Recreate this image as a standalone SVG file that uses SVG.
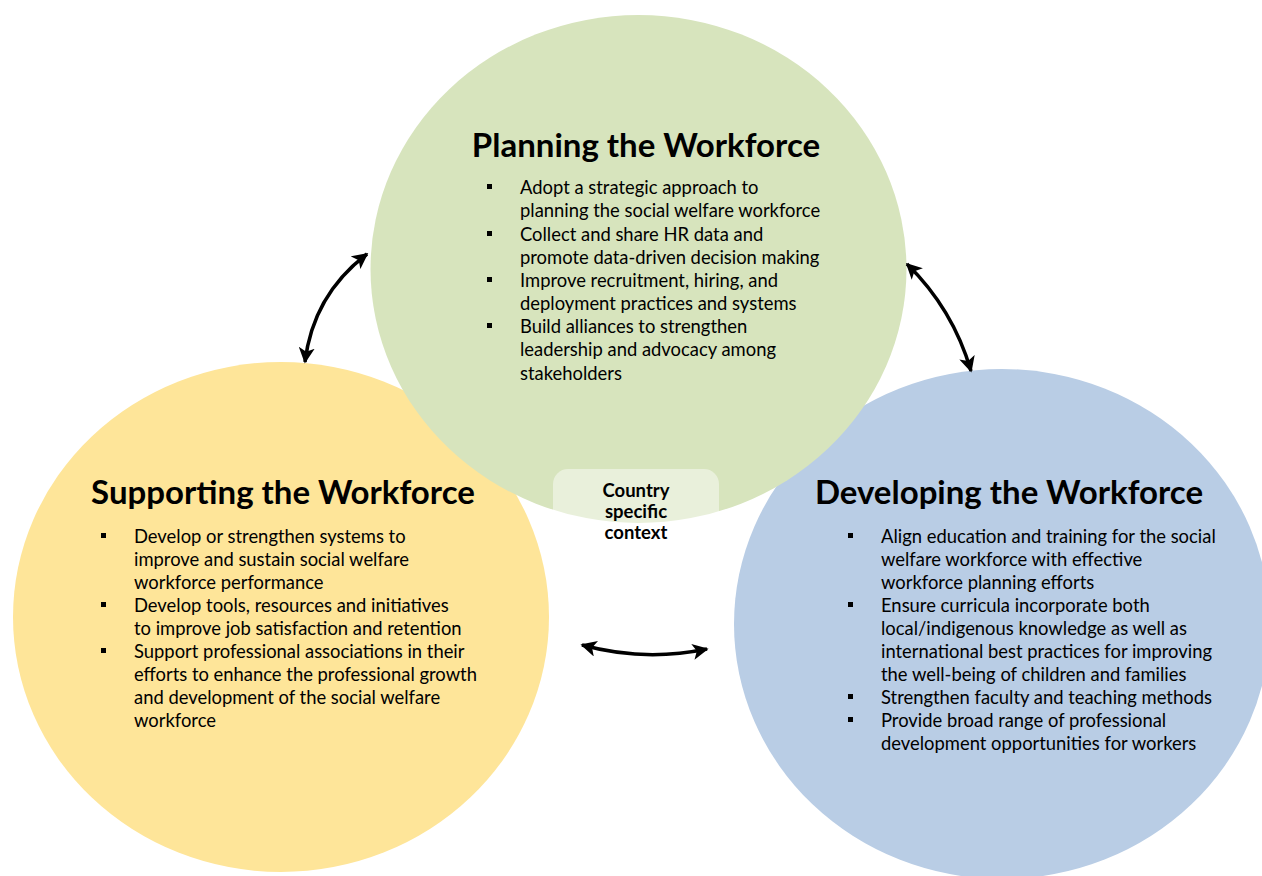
<svg xmlns="http://www.w3.org/2000/svg" width="1262" height="876" viewBox="0 0 1262 876">
<defs>
<style>
.title{font-family:Lato,"Open Sans",sans-serif;font-weight:bold;font-size:33px;fill:#000;text-anchor:middle}
.body{font-family:Lato,"Open Sans",sans-serif;font-size:18.4px;fill:#000}
.ctx{font-family:Lato,"Open Sans",sans-serif;font-weight:bold;font-size:18.5px;fill:#000;text-anchor:middle}
.bul{fill:#000}
.conn{fill:none;stroke:#000;stroke-width:3.5}
</style>
<marker id="ah" viewBox="0 0 10 10" refX="9" refY="5" markerWidth="16" markerHeight="16" markerUnits="userSpaceOnUse" orient="auto-start-reverse">
<path d="M0,0 L10,5 L0,10 L2.5,5 Z" fill="#000"/>
</marker>
</defs>
<rect width="1262" height="876" fill="#fff"/>

<g id="supporting">
<ellipse cx="281" cy="617" rx="268" ry="255" fill="#fee599"/>
<text class="title" x="283" y="504">Supporting the Workforce</text>
<rect class="bul" x="101" y="533" width="5" height="5"/>
<rect class="bul" x="101" y="602" width="5" height="5"/>
<rect class="bul" x="101" y="648" width="5" height="5"/>
<text class="body" x="134" y="543">Develop or strengthen systems to</text>
<text class="body" x="134" y="566">improve and sustain social welfare</text>
<text class="body" x="134" y="589">workforce performance</text>
<text class="body" x="134" y="612">Develop tools, resources and initiatives</text>
<text class="body" x="134" y="635">to improve job satisfaction and retention</text>
<text class="body" x="134" y="658">Support professional associations in their</text>
<text class="body" x="134" y="681">efforts to enhance the professional growth</text>
<text class="body" x="134" y="704">and development of the social welfare</text>
<text class="body" x="134" y="727">workforce</text>
</g>

<g id="developing">
<ellipse cx="1002" cy="624" rx="268" ry="255" fill="#b9cde5"/>
<text class="title" x="1009" y="504">Developing the Workforce</text>
<rect class="bul" x="848" y="533" width="5" height="5"/>
<rect class="bul" x="848" y="602" width="5" height="5"/>
<rect class="bul" x="848" y="694" width="5" height="5"/>
<rect class="bul" x="848" y="717" width="5" height="5"/>
<text class="body" x="881" y="543">Align education and training for the social</text>
<text class="body" x="881" y="566">welfare workforce with effective</text>
<text class="body" x="881" y="589">workforce planning efforts</text>
<text class="body" x="881" y="612">Ensure curricula incorporate both</text>
<text class="body" x="881" y="635">local/indigenous knowledge as well as</text>
<text class="body" x="881" y="658">international best practices for improving</text>
<text class="body" x="881" y="681">the well-being of children and families</text>
<text class="body" x="881" y="704">Strengthen faculty and teaching methods</text>
<text class="body" x="881" y="727">Provide broad range of professional</text>
<text class="body" x="881" y="750">development opportunities for workers</text>
</g>

<g id="planning">
<ellipse cx="638.5" cy="269" rx="268" ry="254" fill="#d7e4bd"/>
<text class="title" x="646" y="157">Planning the Workforce</text>
<rect class="bul" x="487" y="184" width="5" height="5"/>
<rect class="bul" x="487" y="231" width="5" height="5"/>
<rect class="bul" x="487" y="277" width="5" height="5"/>
<rect class="bul" x="487" y="323" width="5" height="5"/>
<text class="body" x="520" y="194">Adopt a strategic approach to</text>
<text class="body" x="520" y="217">planning the social welfare workforce</text>
<text class="body" x="520" y="241">Collect and share HR data and</text>
<text class="body" x="520" y="264">promote data-driven decision making</text>
<text class="body" x="520" y="287">Improve recruitment, hiring, and</text>
<text class="body" x="520" y="310">deployment practices and systems</text>
<text class="body" x="520" y="333">Build alliances to strengthen</text>
<text class="body" x="520" y="356">leadership and advocacy among</text>
<text class="body" x="520" y="380">stakeholders</text>
</g>

<g id="context">
<rect x="553" y="469" width="166" height="80" rx="15" ry="15" fill="#fff" fill-opacity="0.45"/>
<text class="ctx" x="636" y="497">Country</text>
<text class="ctx" x="636" y="518">specific</text>
<text class="ctx" x="636" y="539">context</text>
</g>

<g id="connectors">
<path class="conn" d="M305,362 Q313,295 367,254" marker-start="url(#ah)" marker-end="url(#ah)"/>
<path class="conn" d="M907,264 Q953,309 971,371" marker-start="url(#ah)" marker-end="url(#ah)"/>
<path class="conn" d="M582,645 Q644,662 707,649" marker-start="url(#ah)" marker-end="url(#ah)"/>
</g>
</svg>
